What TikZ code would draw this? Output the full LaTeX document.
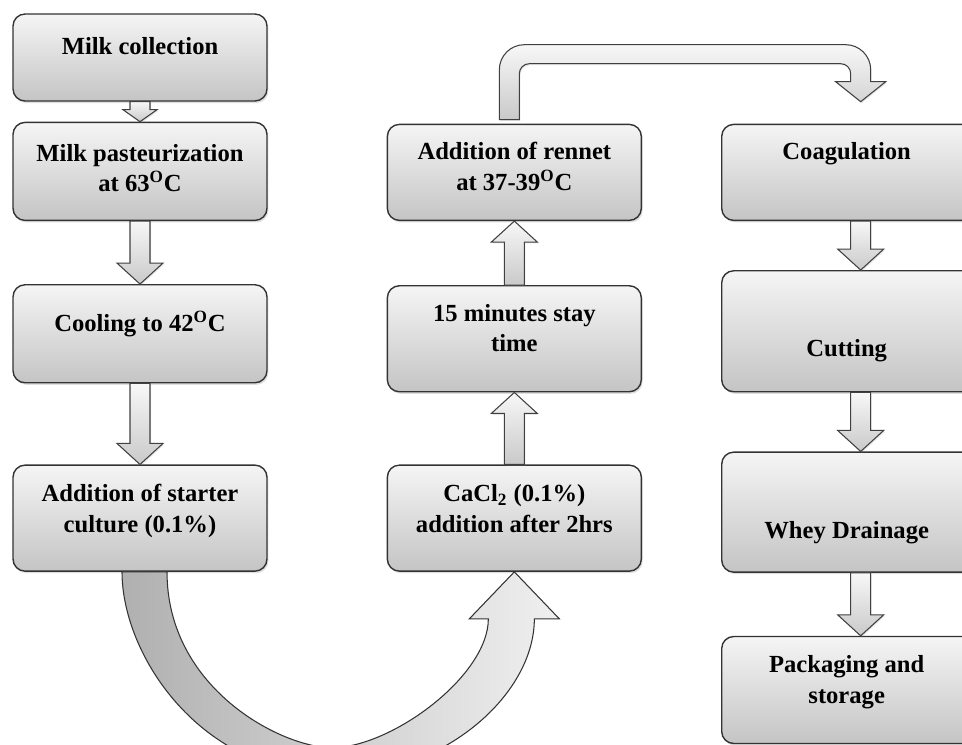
\documentclass[tikz,border=0pt]{standalone}
\usepackage{fontspec}
\setmainfont{Liberation Serif}
\usetikzlibrary{positioning, calc, shadows}

\tikzstyle{box} = [rectangle, rounded corners=0.24cm,
minimum width=5.08cm,
draw=black!80,
line width=0.8pt,
top color=gray!8,
bottom color=gray!46,
drop shadow={opacity=0.25, shadow xshift=0.8pt, shadow yshift=-1.2pt}]
\tikzstyle{wide} = [box, minimum width=5.56cm]
\tikzstyle{lbl} = [font=\fontsize{14}{17.5}\selectfont\bfseries,
align=center,
anchor=center,
inner sep=0pt]
\tikzstyle{blkarr} = [draw=black!75,
line width=0.6pt,
top color=gray!6,
bottom color=gray!42,
drop shadow={opacity=0.2, shadow xshift=0.6pt, shadow yshift=-0.8pt}]
\tikzstyle{curvarr} = [draw=black!80,
line width=0.6pt,
left color=gray!62,
right color=gray!12]

% block arrow: [head half width]{from}{to}{signed head length}
\newcommand{\blk}[4][23]{%
\draw[blkarr] ($(#2)+(-10,0)$) -- ($(#3)+(-10,#4)$) -- ($(#3)+(-#1,#4)$) -- (#3)
  -- ($(#3)+(#1,#4)$) -- ($(#3)+(10,#4)$) -- ($(#2)+(10,0)$) -- cycle;}

\begin{document}
\begin{tikzpicture}[x=0.02cm, y=-0.02cm]
    \useasboundingbox (0,0) rectangle (962,744);
    \clip (0,0) rectangle (962,744);

    % left column
    \node (milk) [box, minimum height=1.74cm, label={[lbl, yshift=-0.66cm]north:Milk collection}] at (140,57.5) {};
    \node (past) [box, minimum height=1.96cm, below=0.4cm of milk,
        label={[lbl, yshift=-0.93cm]north:{Milk pasteurization\\at 63\textsuperscript{O}C}}] {};
    \node (cool) [box, minimum height=1.96cm, below=1.26cm of past,
        label={[lbl, yshift=-0.8cm]north:{Cooling to 42\textsuperscript{O}C}}] {};
    \node (starter) [box, minimum height=2.12cm, below=1.62cm of cool,
        label={[lbl, yshift=-0.93cm]north:{Addition of starter\\culture (0.1\%)}}] {};

    % middle column
    \node (cacl) [box, minimum height=2.12cm, right=2.38cm of starter,
        label={[lbl, yshift=-0.88cm]north:{CaCl\textsubscript{2} (0.1\%)\\addition after 2hrs}}] {};
    \node (stay) [box, minimum height=2.12cm, above=1.44cm of cacl,
        label={[lbl, yshift=-0.86cm]north:{15 minutes stay\\time}}] {};
    \node (rennet) [box, minimum height=1.92cm, above=1.28cm of stay,
        label={[lbl, yshift=-0.86cm]north:{Addition of rennet\\at 37-39\textsuperscript{O}C}}] {};

    % right column
    \node (coag) [wide, minimum height=1.92cm, right=1.58cm of rennet,
        label={[lbl, xshift=-0.28cm, yshift=-0.6cm]north:Coagulation}] {};
    \node (cut) [wide, minimum height=2.42cm, below=0.98cm of coag,
        label={[lbl, xshift=-0.28cm, yshift=-1.62cm]north:Cutting}] {};
    \node (whey) [wide, minimum height=2.4cm, below=1.18cm of cut,
        label={[lbl, xshift=-0.28cm, yshift=-1.62cm]north:Whey Drainage}] {};
    \node (pack) [wide, minimum height=2.14cm, below=1.26cm of whey,
        label={[lbl, xshift=-0.28cm, yshift=-0.92cm]north:{Packaging and\\storage}}] {};

    % straight arrows
    \blk[17]{milk.south}{past.north}{-12}
    \blk{past.south}{cool.north}{-21}
    \blk{cool.south}{starter.north}{-21}
    \blk{cacl.north}{stay.south}{21}
    \blk{stay.north}{rennet.south}{21}
    \blk{coag.south}{cut.north}{-21}
    \blk{cut.south}{whey.north}{-21}
    \blk{whey.south}{pack.north}{-21}

    % bent arrow over the top
    \draw[blkarr] ($(rennet.north)+(-15,-4)$) -- ($(rennet.north)+(-15,-54)$)
        arc[start angle=180, end angle=90, radius=0.5cm] -- ($(coag.north)+(-15,-79)$)
        arc[start angle=90, end angle=0, radius=0.5cm] -- ($(coag.north)+(10,-42)$)
        -- ($(coag.north)+(25,-42)$) -- ($(coag.north)+(0,-22)$) -- ($(coag.north)+(-25,-42)$)
        -- ($(coag.north)+(-10,-42)$) -- ($(coag.north)+(-10,-50)$)
        arc[start angle=0, end angle=90, radius=0.2cm] -- ($(rennet.north)+(15,-60)$)
        arc[start angle=90, end angle=180, radius=0.2cm] -- ($(rennet.north)+(5,-4)$) -- cycle;

    % curved arrow underneath
    \draw[curvarr] ($(starter.south)+(-18,0)$)
        .. controls ($(starter.south)+(-18,83)$) and ($(starter.south)+(60,203)$) .. ($(starter.south)+(195,203)$)
        .. controls ($(cacl.south)+(-73,204)$) and ($(cacl.south)+(20,124)$) .. ($(cacl.south)+(20,47)$)
        -- ($(cacl.south)+(45,47)$) -- (cacl.south) -- ($(cacl.south)+(-45,47)$) -- ($(cacl.south)+(-26,47)$)
        .. controls ($(cacl.south)+(-26,104)$) and ($(cacl.south)+(-123,176)$) .. ($(cacl.south)+(-183,176)$)
        .. controls ($(starter.south)+(140,175)$) and ($(starter.south)+(27,116)$) .. ($(starter.south)+(27,0)$)
        -- cycle;

\end{tikzpicture}
\end{document}
